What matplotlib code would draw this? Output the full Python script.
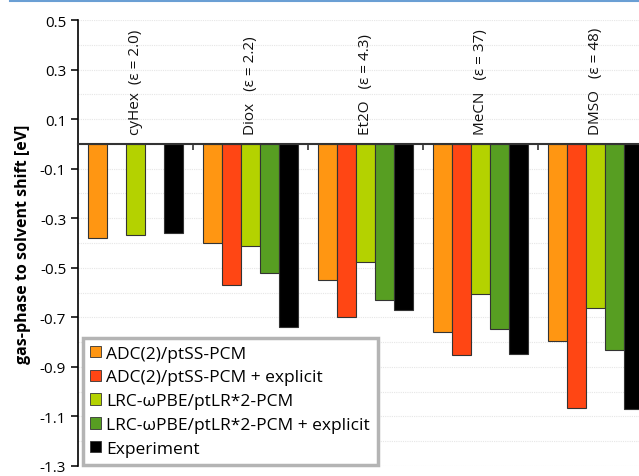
import numpy as np
import matplotlib
matplotlib.use("Agg")
import matplotlib.pyplot as plt
from matplotlib.ticker import MultipleLocator
from matplotlib.lines import Line2D

plt.rcParams['font.family'] = ['Open Sans', 'DejaVu Sans']

solvents = ["cyHex  (\u03b5 = 2.0)", "Diox   (\u03b5 = 2.2)", "Et2O   (\u03b5 = 4.3)",
            "MeCN   (\u03b5 = 37)", "DMSO   (\u03b5 = 48)"]
methods = ["ADC(2)/ptSS-PCM", "ADC(2)/ptSS-PCM + explicit",
           "LRC-\u03c9PBE/ptLR*2-PCM", "LRC-\u03c9PBE/ptLR*2-PCM + explicit",
           "Experiment"]
colors = ["#ff9612", "#ff4614", "#b4d200", "#579e22", "#000000"]

# shifts in eV, one list per method (nan = not computed)
adc_pcm = [-0.38, -0.40, -0.55, -0.76, -0.795]
adc_expl = [np.nan, -0.57, -0.70, -0.85, -1.065]
lrc_pcm = [-0.367, -0.413, -0.478, -0.605, -0.662]
lrc_expl = [np.nan, -0.52, -0.63, -0.747, -0.83]
experiment = [-0.36, -0.74, -0.67, -0.847, -1.07]
series = [adc_pcm, adc_expl, lrc_pcm, lrc_expl, experiment]

fig = plt.figure(figsize=(6.39, 4.77), dpi=100)
ax = fig.add_axes([78 / 639, 10 / 477, 575 / 639, 446 / 477])

width = 0.165
margin = 0.085
for j, (vals, col, lab) in enumerate(zip(series, colors, methods)):
    x = np.arange(len(solvents)) + margin + j * width
    ax.bar(x, vals, width=width, align='edge', color=col, edgecolor='#333333',
           linewidth=0.8, label=lab, zorder=3)

for i, name in enumerate(solvents):
    ax.text(i + 0.5, 0.04, name, rotation=90, ha='center', va='bottom',
            fontsize=11, color='#111111')

ax.set_xlim(0, len(solvents))
ax.set_ylim(-1.3, 0.5)
ax.yaxis.set_minor_locator(MultipleLocator(0.1))
ax.set_yticks(np.arange(-1.3, 0.51, 0.2))
ax.set_yticklabels([f"{v:.1f}" for v in np.arange(-1.3, 0.51, 0.2)])
ax.set_xticks([1, 2, 3, 4])
ax.set_xticklabels([])
ax.tick_params(axis='x', direction='out', length=4, width=1.2, color='#333333')
ax.tick_params(axis='y', which='major', direction='out', length=5, width=1.2,
               labelsize=11, color='#111111')
ax.tick_params(axis='y', which='minor', length=0)

ax.grid(axis='y', which='both', color='#e6e6e6', linestyle=(0, (1, 1)),
        linewidth=0.8, zorder=0)
ax.set_axisbelow(True)

ax.spines['top'].set_visible(False)
ax.spines['right'].set_visible(False)
ax.spines['bottom'].set_position(('data', 0))
ax.spines['bottom'].set_color('#333333')
ax.spines['bottom'].set_linewidth(1.5)
ax.spines['bottom'].set_zorder(4)
ax.spines['left'].set_linewidth(1.2)

ax.set_ylabel("gas-phase to solvent shift [eV]", fontsize=11.5,
              fontweight='bold', labelpad=6)

leg = ax.legend(loc='lower left', bbox_to_anchor=(0.008, 0.003),
                borderaxespad=0, fontsize=12.5, fancybox=False, framealpha=1,
                edgecolor='#b4b4b4', handlelength=0.62, handleheight=0.62,
                handletextpad=0.3, labelspacing=0.45, borderpad=0.45)
leg.get_frame().set_linewidth(2.5)
for h in leg.legend_handles:
    h.set_linewidth(0.6)

# thin rule across the top of the page
fig.add_artist(Line2D([10 / 639, 1], [1 - 1.5 / 477] * 2, color='#6a9fd4',
                      linewidth=1.5, transform=fig.transFigure))

fig.savefig("out.png", dpi=100)
